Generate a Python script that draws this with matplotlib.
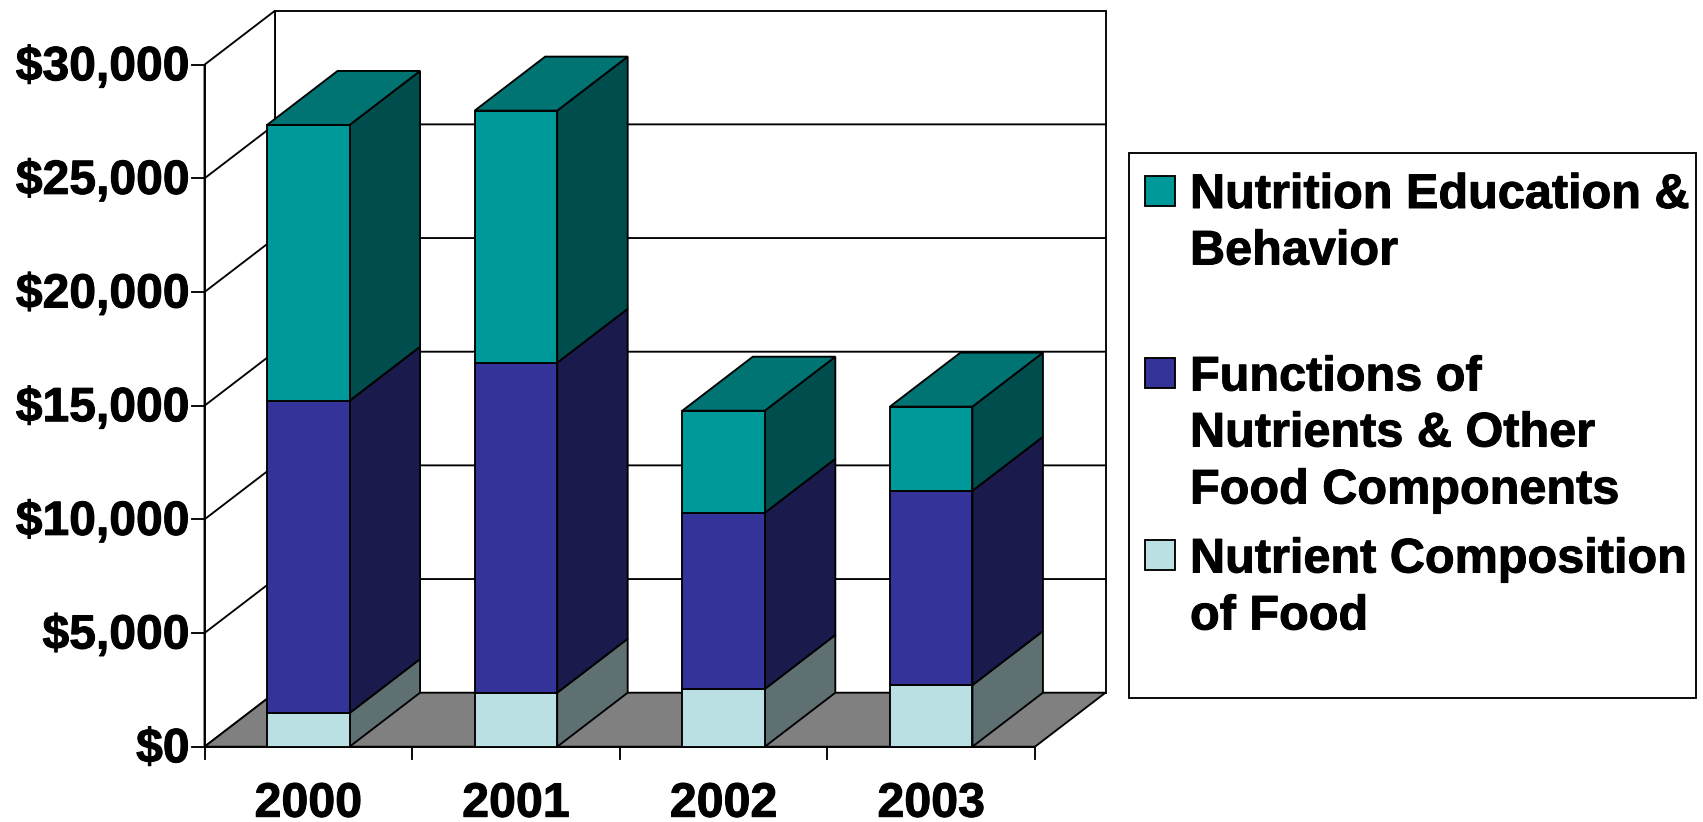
#! /usr/bin/env python3

import matplotlib
matplotlib.use("Agg")
import matplotlib.pyplot as plt
import matplotlib.patheffects as pe
from matplotlib.patches import Polygon, Rectangle

plt.rcParams['font.family'] = ['Liberation Sans', 'DejaVu Sans']

years = ["2000", "2001", "2002", "2003"]
#funding per year, bottom segment first
composition = [1480, 2375, 2540, 2710]
functions = [13740, 14515, 7750, 8550]
education = [12130, 11090, 4490, 3700]
y_ticks = [0, 5000, 10000, 15000, 20000, 25000, 30000]
y_labels = ["$0", "$5,000", "$10,000", "$15,000", "$20,000", "$25,000", "$30,000"]

legend_labels = ["Nutrition Education &\nBehavior",
                 "Functions of\nNutrients & Other\nFood Components",
                 "Nutrient Composition\nof Food"]

#front, side and top shades for each stacked segment
comp_colors = ("#BBE0E3", "#5E7072", "#5E7072")
func_colors = ("#333399", "#1A1A4D", "#1A1A4D")
edu_colors = ("#009999", "#004D4D", "#007373")

W, H = 1703, 822
fig = plt.figure(figsize=(W / 100, H / 100), dpi=100, facecolor="white")

#plot frame in pixels: x=0 at 204.5, x=4 at 1035, $0 at 746.7, $30,000 at 64.7
left = 204.5
px_per_cat = (1035 - left) / 4
px_per_dollar = (746.7 - 64.7) / 30000
ax = fig.add_axes([0, 0, 1, 1])
ax.set_xlim(-left / px_per_cat, (W - left) / px_per_cat)
ax.set_ylim(-(H - 746.7) / px_per_dollar, 746.7 / px_per_dollar)
ax.axis("off")

#3d look: depth shift of the floor and walls, in data units
dx = 70.5 / px_per_cat
dy = 54 / px_per_dollar
bar_w = 82.5 / px_per_cat
lw = 1.35
ymax = y_ticks[-1]
ncat = len(years)

#the font runs a little heavier than plain bold, so thicken it with a thin stroke
heavy = [pe.withStroke(linewidth=0.7, foreground="black")]

#floor and back wall
ax.add_patch(Polygon([(dx, dy), (ncat + dx, dy), (ncat + dx, ymax + dy), (dx, ymax + dy)],
                     closed=True, fc="white", ec="black", lw=lw, zorder=1))
ax.add_patch(Polygon([(0, 0), (dx, dy), (dx, ymax + dy), (0, ymax)], closed=True,
                     fc="white", ec="black", lw=lw, zorder=1))
ax.add_patch(Polygon([(0, 0), (ncat, 0), (ncat + dx, dy), (dx, dy)], closed=True,
                     fc="#808080", ec="black", lw=lw, zorder=1.5))

#gridlines run along the side wall then across the back wall
for t in y_ticks[1:-1]:
    ax.plot([0, dx, ncat + dx], [t, t + dy, t + dy], color="black", lw=lw, zorder=2)

#axis lines and ticks
ax.plot([0, 0], [0, ymax], color="black", lw=lw, zorder=2)
ax.plot([0, ncat], [0, 0], color="black", lw=lw, zorder=2)
tick_x = 13 / px_per_cat
tick_y = 12 / px_per_dollar
for t, lab in zip(y_ticks, y_labels):
    ax.plot([-tick_x, 0], [t, t], color="black", lw=lw, zorder=2)
    ax.text(-15 / px_per_cat, t + 2 / px_per_dollar, lab, ha="right", va="center_baseline",
            fontsize=34.6, fontweight="bold", color="black", path_effects=heavy)
for i in range(ncat + 1):
    ax.plot([i, i], [0, -tick_y], color="black", lw=lw, zorder=2)
for i, lab in enumerate(years):
    ax.text(i + 0.5, -70 / px_per_dollar, lab, ha="center", va="baseline", fontsize=34.8,
            fontweight="bold", color="black", path_effects=heavy)

#stacked bars, side faces drawn as parallelograms behind the front faces
for i in range(ncat):
    x0 = i + 0.5 - bar_w / 2
    x1 = i + 0.5 + bar_w / 2
    bottom = 0
    for vals, cols in [(composition, comp_colors), (functions, func_colors), (education, edu_colors)]:
        top = bottom + vals[i]
        ax.add_patch(Polygon([(x1, bottom), (x1 + dx, bottom + dy), (x1 + dx, top + dy), (x1, top)],
                             closed=True, fc=cols[1], ec="black", lw=lw, zorder=3))
        ax.bar(i + 0.5, vals[i], width=bar_w, bottom=bottom, color=cols[0], edgecolor="black",
               linewidth=lw, zorder=4)
        bottom = top
    ax.add_patch(Polygon([(x0, bottom), (x1, bottom), (x1 + dx, bottom + dy), (x0 + dx, bottom + dy)],
                         closed=True, fc=edu_colors[2], ec="black", lw=lw, zorder=4))

#legend box, laid out in pixels because the entries are unevenly spaced
def px(x, y):
    return x / W, 1 - y / H

x_l, y_b = px(1128.5, 698)
x_r, y_t = px(1696, 152.5)
fig.add_artist(Rectangle((x_l, y_b), x_r - x_l, y_t - y_b, transform=fig.transFigure,
                         fc="white", ec="black", lw=lw))
swatch_tops = [176, 358, 540]
line_baselines = [[208, 264.5], [390.5, 446.5, 503.5], [572.5, 629.5]]
for lab, col, sy, bases in zip(legend_labels, [edu_colors[0], func_colors[0], comp_colors[0]],
                               swatch_tops, line_baselines):
    sx0, sy0 = px(1145, sy + 30)
    sx1, sy1 = px(1175, sy)
    fig.add_artist(Rectangle((sx0, sy0), sx1 - sx0, sy1 - sy0, transform=fig.transFigure,
                             fc=col, ec="black", lw=lw))
    for line, b in zip(lab.split("\n"), bases):
        tx, ty = px(1190, b)
        fig.text(tx, ty, line, ha="left", va="baseline", fontsize=35, fontweight="bold", color="black",
                 path_effects=heavy)

plt.savefig("out.png", dpi=100)
